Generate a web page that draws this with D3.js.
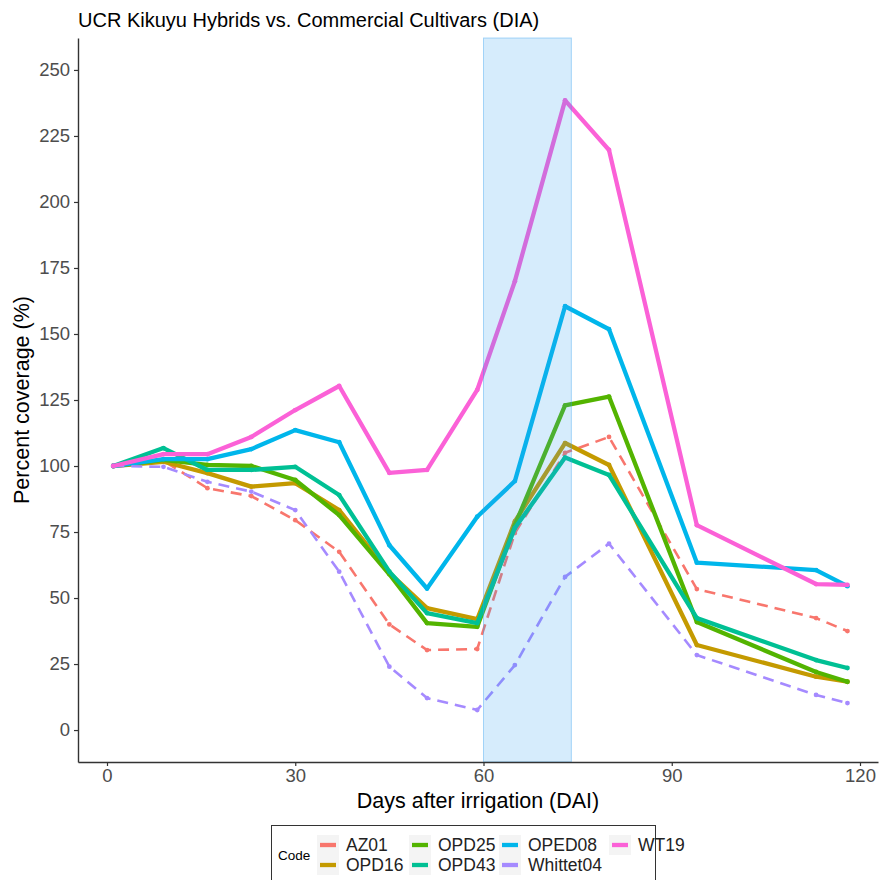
<!DOCTYPE html>
<html>
<head>
<meta charset="utf-8">
<script src="https://cdn.jsdelivr.net/npm/d3@7"></script>
<style>
  body { margin: 0; background: #fff; }
  svg { font-family: "Liberation Sans", Arial, sans-serif; }
</style>
</head>
<body>
<div id="chart"></div>
<script>
const W = 881;
const H = 880;

// sampling days (DAI)
const days = [1, 9, 16, 23, 30, 37, 45, 51, 59, 65, 73, 80, 94, 113, 118];

// percent coverage per code
const codes = ['AZ01', 'OPD16', 'OPD25', 'OPD43', 'OPED08', 'Whittet04', 'WT19'];
const AZ01 = [100, 102, 91.6, 88.6, 79.5, 67.5, 40, 30.3, 30.7, 74.6, 105, 111, 53.4, 42.4, 37.5];
const OPD16 = [100, 101.6, 97.3, 92.2, 93.5, 83.3, 59.5, 46.2, 42, 79, 108.7, 100.4, 32.2, 20.2, 18.3];
const OPD25 = [100, 102.3, 100.4, 100, 94.7, 81.4, 59, 40.5, 39.1, 77.6, 123, 126.3, 40.9, 22, 18.3];
const OPD43 = [100, 106.8, 98.5, 98.5, 99.7, 89, 60, 44.3, 40.5, 76.5, 103.2, 96.6, 42.4, 26.5, 23.5];
const OPED08 = [100, 102.6, 102.6, 106.4, 113.6, 109, 70, 53.6, 80.8, 94.3, 160.5, 151.8, 63.4, 60.6, 54.5];
const Whittet04 = [100, 99.7, 94, 90.3, 83.3, 60, 24, 12.1, 7.6, 24.6, 58, 70.6, 28.4, 13.3, 10.2];
const WT19 = [100, 104.5, 104.5, 111, 121.2, 130.3, 97.4, 98.5, 128.8, 170, 238.5, 219.7, 77.6, 55.3, 55];
const values = [AZ01, OPD16, OPD25, OPD43, OPED08, Whittet04, WT19];
const dashed = ['AZ01', 'Whittet04'];

// irrigation-stop window
const windowDays = [60, 74];

const xTicks = [0, 30, 60, 90, 120];
const yTicks = [0, 25, 50, 75, 100, 125, 150, 175, 200, 225, 250];

// ggplot default hue palette for 7 levels
const colors = ['#F8766D', '#C49A00', '#53B400', '#00C094', '#00B6EB', '#A58AFF', '#FB61D7'];

const panel = { left: 78, right: 878, top: 38, bottom: 762 };

const x = d3.scaleLinear()
  .domain([(panel.left - 107) / 6.275, (panel.right - 107) / 6.275])
  .range([panel.left, panel.right]);

const y = d3.scaleLinear()
  .domain([-12.1, 262.1])
  .range([panel.bottom, panel.top]);

const color = d3.scaleOrdinal(codes, colors);

const svg = d3.select('#chart')
  .append('svg')
  .attr('width', W)
  .attr('height', H);

const series = codes.map((c, i) => ({
  code: c,
  points: days.map((d, j) => ({ day: d, v: values[i][j] }))
}));

const line = d3.line()
  .x(d => x(d.day))
  .y(d => y(d.v));

// lines, in factor order so WT19 ends on top
const g = svg.append('g');
series.forEach(s => {
  const isDashed = dashed.includes(s.code);
  g.append('path')
    .datum(s.points)
    .attr('fill', 'none')
    .attr('stroke', color(s.code))
    .attr('stroke-width', isDashed ? 2.6 : 4.3)
    .attr('stroke-dasharray', isDashed ? '11,7' : null)
    .attr('stroke-linejoin', 'round')
    .attr('d', line);

  g.selectAll(null)
    .data(s.points)
    .enter()
    .append('circle')
    .attr('cx', d => x(d.day))
    .attr('cy', d => y(d.v))
    .attr('r', 2.4)
    .attr('fill', color(s.code));
});

// translucent rectangle drawn over the lines
svg.append('rect')
  .attr('x', x(windowDays[0]))
  .attr('y', panel.top)
  .attr('width', x(windowDays[1]) - x(windowDays[0]))
  .attr('height', panel.bottom - panel.top)
  .attr('fill', 'rgb(50,160,240)')
  .attr('fill-opacity', 0.2)
  .attr('stroke', 'rgb(50,160,240)')
  .attr('stroke-opacity', 0.4)
  .attr('stroke-width', 1);

// axes
const xAxis = d3.axisBottom(x)
  .tickValues(xTicks)
  .tickSize(4)
  .tickSizeOuter(0)
  .tickPadding(3);

const yAxis = d3.axisLeft(y)
  .tickValues(yTicks)
  .tickSize(4)
  .tickSizeOuter(0)
  .tickPadding(4);

const gx = svg.append('g')
  .attr('transform', `translate(0, ${panel.bottom})`)
  .call(xAxis);

const gy = svg.append('g')
  .attr('transform', `translate(${panel.left}, 0)`)
  .call(yAxis);

[gx, gy].forEach(a => {
  a.select('.domain').attr('stroke', '#333').attr('stroke-width', 1.4);
  a.selectAll('.tick line').attr('stroke', '#333').attr('stroke-width', 1.2);
  a.selectAll('.tick text')
    .attr('fill', '#4d4d4d')
    .style('font-size', '18.5px')
    .style('font-family', '"Liberation Sans", Arial, sans-serif');
});

// titles
svg.append('text')
  .attr('x', panel.left)
  .attr('y', 27)
  .attr('font-size', 20)
  .attr('fill', '#000')
  .text('UCR Kikuyu Hybrids vs. Commercial Cultivars (DIA)');

svg.append('text')
  .attr('x', (panel.left + panel.right) / 2)
  .attr('y', 808)
  .attr('text-anchor', 'middle')
  .attr('font-size', 21.5)
  .attr('fill', '#000')
  .text('Days after irrigation (DAI)');

svg.append('text')
  .attr('transform', `translate(29, ${(panel.top + panel.bottom) / 2}) rotate(-90)`)
  .attr('text-anchor', 'middle')
  .attr('font-size', 21.5)
  .attr('fill', '#000')
  .text('Percent coverage (%)');

// legend: 2 rows, filled column by column
const legend = svg.append('g');
legend.append('rect')
  .attr('x', 271.5)
  .attr('y', 825.5)
  .attr('width', 384)
  .attr('height', 62)
  .attr('fill', '#fff')
  .attr('stroke', '#333')
  .attr('stroke-width', 1);

legend.append('text')
  .attr('x', 278)
  .attr('y', 860)
  .attr('font-size', 13.5)
  .attr('fill', '#000')
  .text('Code');

const colX = [317, 409, 499, 609];
const rowY = [845, 865];

codes.forEach((c, i) => {
  const col = Math.floor(i / 2);
  const row = i % 2;
  const kx = colX[col];
  const ky = rowY[row];
  legend.append('rect')
    .attr('x', kx)
    .attr('y', ky - 10)
    .attr('width', 22)
    .attr('height', 20)
    .attr('fill', '#f4f4f4');
  legend.append('line')
    .attr('x1', kx + 3)
    .attr('x2', kx + 19)
    .attr('y1', ky)
    .attr('y2', ky)
    .attr('stroke', color(c))
    .attr('stroke-width', 4.3);
  legend.append('text')
    .attr('x', kx + 29)
    .attr('y', ky + 6)
    .attr('font-size', 17.5)
    .attr('fill', '#222')
    .text(c);
});
</script>
</body>
</html>
